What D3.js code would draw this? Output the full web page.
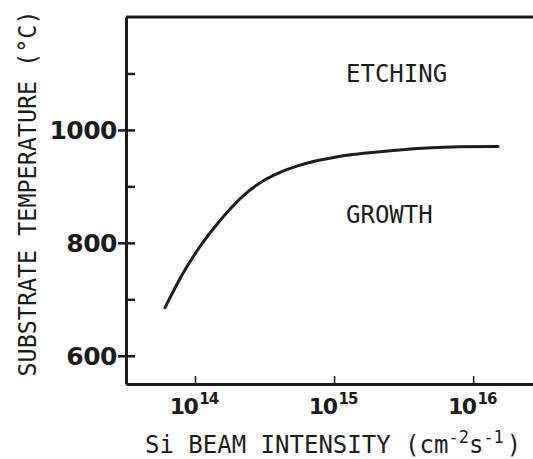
<!DOCTYPE html>
<html>
<head>
<meta charset="utf-8">
<script src="https://cdn.jsdelivr.net/npm/d3@7/dist/d3.min.js"></script>
<style>
html,body{margin:0;padding:0;background:#fff;}
svg{display:block;}
</style>
</head>
<body>
<svg id="chart" width="533" height="459"></svg>
<script>
// ---- data ----
const intensity = [6.08e13, 8.24e13, 1.09e14, 1.43e14, 1.79e14, 2.36e14, 3.10e14, 4.09e14, 5.40e14, 7.10e14, 9.35e14, 1.23e15, 1.63e15, 2.14e15, 4.65e15, 8.05e15, 1.51e16];
const temperature = [685, 747, 794, 832, 860, 889, 910, 925, 936, 944, 950, 955, 958.5, 961.5, 968, 970, 970.5];
const yMajorTicks = [600, 800, 1000];
const yMinorTicks = [700, 900, 1100];
const xTicks = [1e14, 1e15, 1e16];
const xTickExponents = ["14", "15", "16"];
const regionLabels = ["ETCHING", "GROWTH"];
const regionTemps = [1100, 850];

const ink = "#1c1c1c";
const svg = d3.select("#chart");

const x = d3.scaleLog().domain([Math.pow(10, 13.504), Math.pow(10, 16.43)]).range([126, 533]);
const y = d3.scaleLinear().domain([550, 1200]).range([384, 17]);

// y axis: major ticks with labels (outside) + all ticks inward
const yAxisL = svg.append("g").attr("transform", "translate(126,0)")
  .call(d3.axisLeft(y).tickValues(yMajorTicks).tickSize(8).tickSizeOuter(0).tickPadding(1).tickFormat(d3.format("d")));
yAxisL.select(".domain").attr("stroke", ink).attr("stroke-width", 3);
yAxisL.selectAll(".tick line").attr("stroke", ink).attr("stroke-width", 2.5);
yAxisL.selectAll(".tick text").attr("fill", ink)
  .style("font-family", "'DejaVu Sans', sans-serif").style("font-weight", "bold").style("font-size", "25px")
  .attr("letter-spacing", "-0.5").attr("dy", "0.36em");

const yAxisR = svg.append("g").attr("transform", "translate(126,0)")
  .call(d3.axisRight(y).tickValues(yMajorTicks.concat(yMinorTicks)).tickSize(9).tickSizeOuter(0).tickFormat(""));
yAxisR.select(".domain").remove();
yAxisR.selectAll(".tick line").attr("stroke", ink).attr("stroke-width", 2.5);

// x axis: small inward ticks
const xAxis = svg.append("g").attr("transform", "translate(0,384)")
  .call(d3.axisTop(x).tickValues(xTicks).tickSize(8).tickSizeOuter(0).tickFormat(""));
xAxis.select(".domain").attr("stroke", ink).attr("stroke-width", 3);
xAxis.selectAll(".tick line").attr("stroke", ink).attr("stroke-width", 1.6);

// top frame line
svg.append("line")
  .attr("x1", x.range()[0]).attr("x2", x.range()[1])
  .attr("y1", y.range()[1]).attr("y2", y.range()[1])
  .attr("stroke", ink).attr("stroke-width", 3);

// x tick labels 10^n
const xl = svg.append("g");
xTicks.forEach((v, i) => {
  const t = xl.append("text")
    .attr("x", x(v) - 1).attr("y", 414)
    .attr("text-anchor", "middle").attr("fill", ink)
    .style("font-family", "'DejaVu Sans', sans-serif").style("font-weight", "bold").style("font-size", "22px")
    .attr("letter-spacing", "-1.5");
  t.append("tspan").text("10");
  t.append("tspan").attr("dy", -10).attr("dx", 2).style("font-size", "15px").attr("letter-spacing", "-1").text(xTickExponents[i]);
});

// curve
const pts = intensity.map((v, i) => [v, temperature[i]]);
svg.append("path")
  .datum(pts)
  .attr("fill", "none").attr("stroke", ink).attr("stroke-width", 3).attr("stroke-linecap", "round")
  .attr("d", d3.line().x(d => x(d[0])).y(d => y(d[1])).curve(d3.curveMonotoneX));

// region labels
const mono = "'DejaVu Sans Mono', monospace";
regionLabels.forEach((lab, i) => {
  svg.append("text")
    .attr("x", 346).attr("y", y(regionTemps[i]) + (i === 0 ? 9 : 8))
    .attr("fill", ink).style("font-family", mono).style("font-size", "24px")
    .text(lab);
});

// axis titles
svg.append("text")
  .attr("transform", "translate(36,193.5) rotate(-90)")
  .attr("text-anchor", "middle").attr("fill", ink)
  .style("font-family", mono).style("font-size", "24px")
  .attr("textLength", 366).attr("lengthAdjust", "spacingAndGlyphs")
  .text("SUBSTRATE TEMPERATURE (°C)");

const xt = svg.append("text")
  .attr("x", 145).attr("y", 453).attr("fill", ink)
  .style("font-family", mono).style("font-size", "24px");
xt.append("tspan").text("Si BEAM INTENSITY (cm");
xt.append("tspan").attr("dy", -10).style("font-size", "17px").text("-2");
xt.append("tspan").attr("dy", 10).text("s");
xt.append("tspan").attr("dy", -10).style("font-size", "17px").text("-1");
xt.append("tspan").attr("dy", 10).attr("dx", 3).text(")");
</script>
</body>
</html>
